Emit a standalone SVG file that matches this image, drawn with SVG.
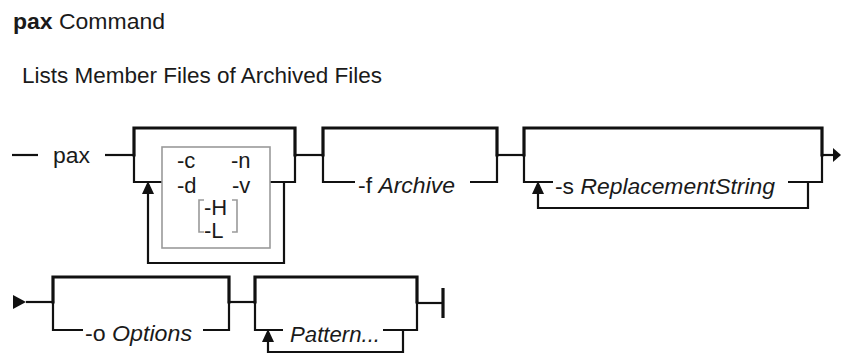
<svg xmlns="http://www.w3.org/2000/svg" width="841" height="354" viewBox="0 0 841 354">
<style>
text{font-family:"Liberation Sans",Arial,sans-serif;font-size:22px;fill:#1a1a1a}
.it{font-style:italic}
.b{font-weight:bold}
.thick{fill:none;stroke:#111;stroke-width:3.2;stroke-linejoin:miter;stroke-linecap:square}
.thin{fill:none;stroke:#111;stroke-width:2.2;stroke-linecap:butt}
.gray{fill:none;stroke:#9a9a9a;stroke-width:1.6}
.arr{fill:#111;stroke:none}
</style>
<rect width="841" height="354" fill="#fff"/>
<g id="title"><text x="13" y="29" textLength="152" lengthAdjust="spacingAndGlyphs"><tspan class="b">pax</tspan> Command</text></g>
<g id="subtitle"><text x="22" y="83" textLength="360" lengthAdjust="spacingAndGlyphs">Lists Member Files of Archived Files</text></g>

<g id="connectors">
<path class="thin" d="M12 155H38"/>
<path class="thin" d="M105 155H134"/>
<path class="thin" d="M295 155H323"/>
<path class="thin" d="M497 155H524"/>
<path class="thin" d="M822 155H835"/>
<polygon class="arr" points="833,148 841,155 833,162"/>
<polygon class="arr" points="13,295 26,302 13,309"/>
<path class="thin" d="M26 302H53"/>
<path class="thin" d="M229 302H255"/>
<path class="thin" d="M417 303H443"/>
<path class="thick" d="M443 288V318" style="stroke-linecap:butt"/>
</g>

<g id="pax"><text x="53" y="163" textLength="37" lengthAdjust="spacingAndGlyphs">pax</text></g>

<g id="options">
<path class="thick" d="M134 155V128H295V155"/>
<path class="thin" d="M134 154V182H162"/>
<path class="thin" d="M295 154V182H270"/>
<path class="thin" d="M284 182V263H148V192"/>
<polygon class="arr" points="142,194 148,181 154,194"/>
<rect class="gray" x="162" y="147" width="108" height="101"/>
<text x="177" y="168">-c</text>
<text x="231" y="168">-n</text>
<text x="177" y="193">-d</text>
<text x="232" y="193">-v</text>
<path class="gray" d="M204 200H199V232H204"/>
<path class="gray" d="M232 200H237V232H232"/>
<text x="204" y="215">-H</text>
<text x="204" y="238">-L</text>
</g>

<g id="archive">
<path class="thick" d="M323 155V128H497V155"/>
<path class="thin" d="M323 154V182H355"/>
<path class="thin" d="M497 154V182H470"/>
<text x="358" y="193" textLength="97" lengthAdjust="spacingAndGlyphs">-f <tspan class="it">Archive</tspan></text>
</g>

<g id="replacement">
<path class="thick" d="M524 155V128H822V155"/>
<path class="thin" d="M524 154V182H553"/>
<path class="thin" d="M822 154V182H788"/>
<path class="thin" d="M808 182V208H538V193"/>
<polygon class="arr" points="532,194 538,181 544,194"/>
<text x="555" y="194" textLength="220" lengthAdjust="spacingAndGlyphs">-s <tspan class="it">ReplacementString</tspan></text>
</g>

<g id="options-o">
<path class="thick" d="M53 302V277H229V302"/>
<path class="thin" d="M53 301V330H83"/>
<path class="thin" d="M229 301V330H203"/>
<text x="85" y="341" textLength="107" lengthAdjust="spacingAndGlyphs">-o <tspan class="it">Options</tspan></text>
</g>

<g id="pattern">
<path class="thick" d="M255 302V277H417V302"/>
<path class="thin" d="M255 301V330H283"/>
<path class="thin" d="M417 301V330H383"/>
<path class="thin" d="M403 330V352H268V341"/>
<polygon class="arr" points="262,342 268,329 274,342"/>
<text class="it" x="290" y="342" textLength="90" lengthAdjust="spacingAndGlyphs">Pattern...</text>
</g>
</svg>
